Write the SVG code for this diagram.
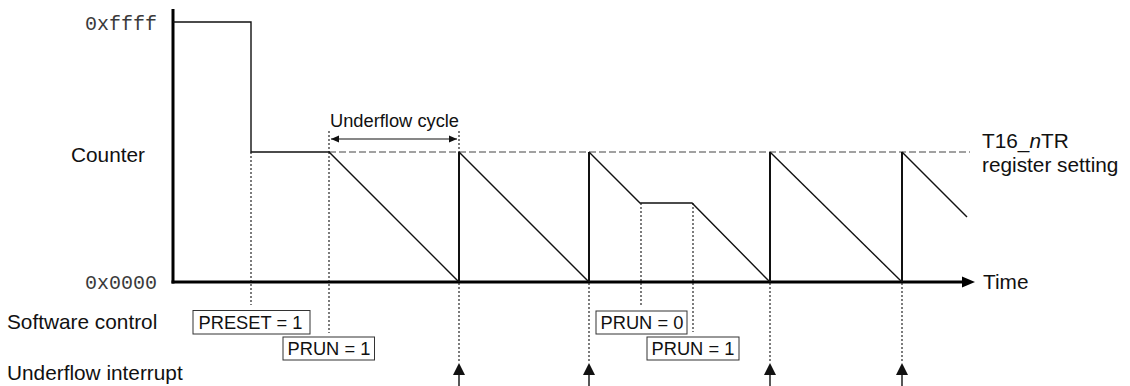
<svg xmlns="http://www.w3.org/2000/svg" width="1130" height="386" viewBox="0 0 1130 386">
<style>
.lbl{font-family:"Liberation Sans",Arial,sans-serif;font-size:20.8px;fill:#111}
.sm{font-family:"Liberation Sans",Arial,sans-serif;font-size:18.3px;fill:#111}
.mono{font-family:"Liberation Mono","Courier New",monospace;font-size:20px;fill:#3a3a3a}
.wave{fill:none;stroke:#111;stroke-width:1.4;stroke-linejoin:miter}
.vert{stroke:#111;stroke-width:2}
.axis{stroke:#000;stroke-width:3;fill:none}
.dot{stroke:#111;stroke-width:1.1;stroke-dasharray:2,2;fill:none}
.dash{stroke:#444;stroke-width:1.1;stroke-dasharray:7,3;fill:none}
.box{fill:#fff;stroke:#333;stroke-width:1}
.ah{fill:#111}
</style>
<defs>
<marker id="sarr" viewBox="0 0 8 8" refX="8" refY="4" markerWidth="8" markerHeight="8" markerUnits="userSpaceOnUse" orient="auto-start-reverse">
<path d="M0,0.5 L8,4 L0,7.5 Z" fill="#111"/>
</marker>
</defs>

<g id="labels">
<text class="mono" x="157" y="29.5" text-anchor="end">0xffff</text>
<text class="mono" x="157" y="289" text-anchor="end">0x0000</text>
<text class="lbl" x="71" y="162">Counter</text>
<text class="lbl" x="7" y="329">Software control</text>
<text class="lbl" x="7" y="380">Underflow interrupt</text>
<text class="lbl" x="982" y="148">T16_<tspan font-style="italic">n</tspan>TR</text>
<text class="lbl" x="982" y="172">register setting</text>
<text class="lbl" x="983" y="289">Time</text>
<text class="sm" x="330" y="127">Underflow cycle</text>
</g>

<g id="axes">
<line class="axis" x1="173" y1="9" x2="173" y2="283.5"/>
<line class="axis" x1="171.5" y1="282" x2="963" y2="282"/>
<path d="M962,276.5 L975,282 L962,287.5 Z" fill="#000"/>
</g>

<g id="connectors">
<line class="dash" x1="329" y1="152" x2="970" y2="152"/>
<polyline class="wave" points="173,22 251,22 251,152 329,152 459,282"/>
<line class="wave" x1="459" y1="152" x2="589" y2="282"/>
<polyline class="wave" points="589,152 640,203 692,203 770,282"/>
<line class="wave" x1="770" y1="152" x2="902" y2="282"/>
<line class="wave" x1="902" y1="152" x2="967" y2="217"/>
<line class="vert" x1="459" y1="152" x2="459" y2="282"/>
<line class="vert" x1="589" y1="152" x2="589" y2="282"/>
<line class="vert" x1="770" y1="152" x2="770" y2="282"/>
<line class="vert" x1="902" y1="152" x2="902" y2="282"/>

<line class="dot" x1="329" y1="131" x2="329" y2="152"/>
<line class="dot" x1="459" y1="131" x2="459" y2="152"/>
<line x1="331" y1="139" x2="457" y2="139" stroke="#111" stroke-width="1.2" marker-start="url(#sarr)" marker-end="url(#sarr)"/>

<line class="dot" x1="251" y1="152" x2="251" y2="305"/>
<line class="dot" x1="329" y1="152" x2="329" y2="333"/>
<line class="dot" x1="641" y1="203" x2="641" y2="305"/>
<line class="dot" x1="693" y1="203" x2="693" y2="332"/>

<line class="dot" x1="459" y1="283" x2="459" y2="363"/>
<line class="dot" x1="589" y1="283" x2="589" y2="363"/>
<line class="dot" x1="770" y1="283" x2="770" y2="363"/>
<line class="dot" x1="902" y1="283" x2="902" y2="363"/>

<line x1="459" y1="372" x2="459" y2="386" stroke="#111" stroke-width="1.4"/>
<path class="ah" d="M459,363 L465,375 L453,375 Z"/>
<line x1="589" y1="372" x2="589" y2="386" stroke="#111" stroke-width="1.4"/>
<path class="ah" d="M589,363 L595,375 L583,375 Z"/>
<line x1="770" y1="372" x2="770" y2="386" stroke="#111" stroke-width="1.4"/>
<path class="ah" d="M770,363 L776,375 L764,375 Z"/>
<line x1="902" y1="372" x2="902" y2="386" stroke="#111" stroke-width="1.4"/>
<path class="ah" d="M902,363 L908,375 L896,375 Z"/>
</g>

<g id="preset1">
<rect class="box" x="193" y="310.5" width="117" height="23.5"/>
<text class="sm" x="198.5" y="328.5">PRESET = 1</text>
</g>
<g id="prun1a">
<rect class="box" x="283" y="337" width="91.5" height="23"/>
<text class="sm" x="287.5" y="354.5">PRUN = 1</text>
</g>
<g id="prun0">
<rect class="box" x="596" y="311" width="91" height="23"/>
<text class="sm" x="600.5" y="328.5">PRUN = 0</text>
</g>
<g id="prun1b">
<rect class="box" x="647" y="337" width="92" height="23"/>
<text class="sm" x="651.5" y="354.5">PRUN = 1</text>
</g>
</svg>
